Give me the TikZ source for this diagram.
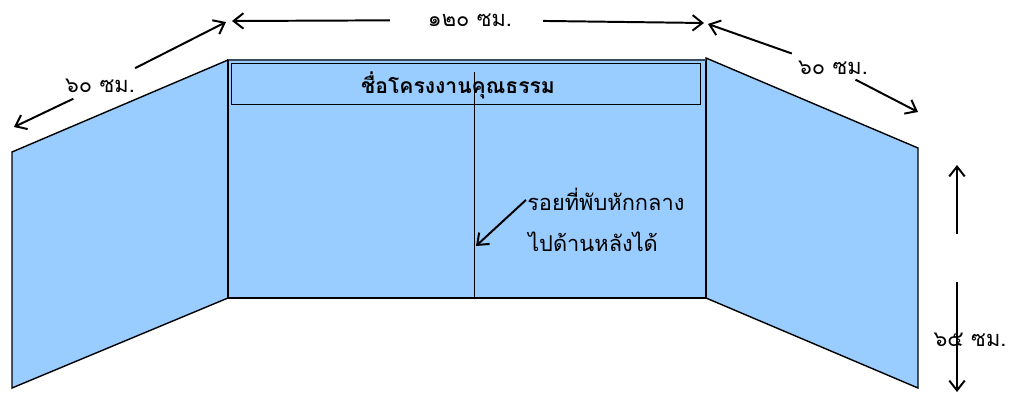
\documentclass[tikz,border=0pt]{standalone}
\usepackage{fontspec}
\newfontfamily\thai[Script=Thai]{Loma}
\usetikzlibrary{arrows.meta}
\definecolor{panelblue}{HTML}{99CCFF}
\definecolor{edgeslate}{HTML}{3A4A60}
\tikzset{Txt/.style={font=\thai\fontsize{15.5}{18}\selectfont,inner sep=0pt},
  Panel/.style={fill=panelblue,draw=black,line width=1pt},
  Dim/.style={->,>={Straight Barb[length=7pt,width=11pt]},line width=1.4pt}}

\begin{document}
\begin{tikzpicture}[x=0.025cm,y=-0.025cm]
    \useasboundingbox (0,0) rectangle (1022,396);
    \draw[Panel] (12,152) -- (228,60) -- (228,298) -- (12,388) -- cycle;
    \draw[Panel] (706,58) -- (918,148) -- (918,388) -- (706,298) -- cycle;
    \draw[Panel] (228,60) rectangle (706,298);
    \draw[edgeslate,line width=1.6pt] (228,60) -- (706,60);
    \draw[line width=1.8pt] (228,60) -- (228,298);
    \draw[line width=0.7pt] (231,63) rectangle (700,104);
    \draw[line width=0.4pt] (474,72) -- (474,298);
    \node[Txt,font=\thai\bfseries\fontsize{15}{18}\selectfont] (title) at (458,85) {ชื่อโครงงานคุณธรรม};
    \node[Txt] (w) at (470,20) {๑๒๐ ซม.};
    \node[Txt] (l) at (100,86) {๖๐ ซม.};
    \node[Txt] (r) at (833,68) {๖๐ ซม.};
    \node[Txt] (h) at (970,340) {๖๕ ซม.};
    \node[Txt,anchor=west] (fold1) at (527,199) {รอยที่พับหักกลาง};
    \node[Txt,anchor=west] (fold2) at (528,242) {ไปด้านหลังได้};
    \coordinate (wl) at (232,21);
    \coordinate (wr) at (704,23);
    \coordinate (la) at (226,22);
    \coordinate (lb) at (14,127);
    \coordinate (ra) at (708,24);
    \coordinate (rb) at (918,112);
    \coordinate (hm) at (957,258);
    \coordinate (ht) at (957,165);
    \coordinate (hb) at (957,392);
    \coordinate (fc) at (476,246);
    \begin{scope}[Dim]
      \draw[shorten <=57pt] (w.center) -- (wl);
      \draw[shorten <=52pt] (w.center) -- (wr);
      \draw[shorten <=28pt] (l.center) -- (la);
      \draw[shorten <=21pt] (l.center) -- (lb);
      \draw[shorten <=31pt] (r.center) -- (ra);
      \draw[shorten <=18pt] (r.center) -- (rb);
      \draw[shorten <=17pt] (hm) -- (ht);
      \draw[shorten <=17pt] (hm) -- (hb);
      \draw[shorten <=1pt] (fold1.west) -- (fc);
    \end{scope}
\end{tikzpicture}
\end{document}
